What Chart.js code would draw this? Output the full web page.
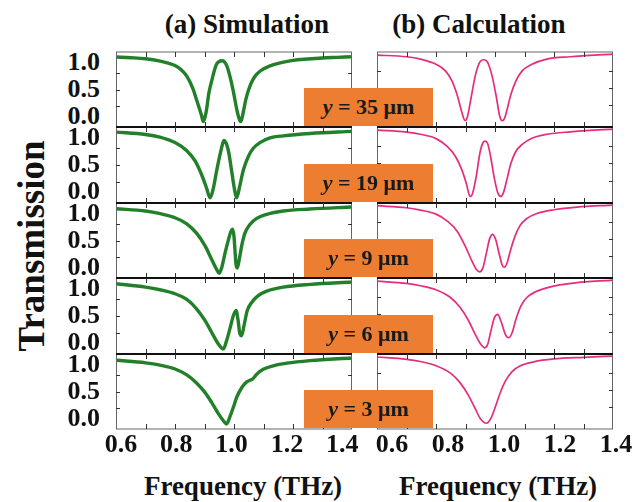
<!DOCTYPE html>
<html lang="en">
<head>
<meta charset="UTF-8">
<title>Transmission: simulation vs calculation</title>
<script src="https://cdn.jsdelivr.net/npm/chart.js"></script>
<style>
  body { margin: 0; background: #fff; }
  #fig {
    position: relative; width: 644px; height: 502px; overflow: hidden;
    font-family: "Liberation Serif", "Times New Roman", serif; font-weight: bold; color: #111;
  }
  #fig canvas { position: absolute; }
  .txt { position: absolute; transform: translate(-50%, -50%); line-height: 1; white-space: nowrap; }
  .title { font-size: 27px; }
  .xtitle { font-size: 27px; }
  .ytitle { font-size: 37px; transform: translate(-50%, -50%) rotate(-90deg); }
  .xtick { font-size: 26px; }
  .ytick { font-size: 26px; transform: translate(-100%, -50%); }
  .tag {
    position: absolute; width: 129px; height: 38px; background: #ed7d31; z-index: 5;
    display: flex; align-items: center; justify-content: center;
    font-size: 22px; color: #1a1a1a;
  }
</style>
</head>
<body>
<div id="fig">
  <div class="txt title" style="left:247px; top:24px;">(a) Simulation</div>
  <div class="txt title" style="left:479px; top:24px;">(b) Calculation</div>
  <div class="txt ytitle" style="left:31px; top:246px;">Transmission</div>
  <div class="txt xtitle" style="left:243px; top:486px;">Frequency (THz)</div>
  <div class="txt xtitle" style="left:498px; top:486px;">Frequency (THz)</div>
</div>

<script>
  // distance y of each row (µm), top to bottom
  const rows = ['35', '19', '9', '6', '3'];
  const xTickLabels = ['0.6', '0.8', '1.0', '1.2', '1.4'];
  const yTickLabels = ['1.0', '0.5', '0.0'];
  const xTickMarks = [0.7, 0.8, 0.9, 1.0, 1.1, 1.2, 1.3];
  const yTickMarks = [0.25, 0.5, 0.75];

  // (a) simulation, frequency (THz) / transmission
  const sim35F = [0.60,0.65,0.70,0.75,0.78,0.80,0.82,0.84,0.86,0.875,0.89,0.896,0.905,0.915,0.925,0.94,0.96,0.975,0.99,1.00,1.01,1.023,1.03,1.04,1.055,1.07,1.09,1.12,1.16,1.20,1.25,1.30,1.35,1.40];
  const sim35T = [0.985,0.975,0.96,0.925,0.89,0.86,0.80,0.70,0.52,0.32,0.11,0.02,0.15,0.45,0.64,0.87,0.93,0.86,0.63,0.42,0.19,0.02,0.13,0.35,0.56,0.69,0.78,0.85,0.90,0.935,0.955,0.97,0.98,0.99];
  const sim19F = [0.60,0.70,0.749,0.80,0.84,0.868,0.89,0.907,0.919,0.93,0.941,0.953,0.967,0.981,0.992,1.001,1.009,1.02,1.032,1.049,1.066,1.088,1.122,1.167,1.258,1.40];
  const sim19T = [0.985,0.95,0.91,0.83,0.71,0.56,0.36,0.16,0.015,0.16,0.41,0.66,0.86,0.71,0.41,0.16,0.015,0.20,0.43,0.63,0.75,0.83,0.90,0.93,0.965,0.995];
  const sim9F = [0.60,0.70,0.75,0.80,0.84,0.873,0.902,0.924,0.941,0.950,0.958,0.970,0.981,0.990,0.995,1.000,1.003,1.007,1.011,1.018,1.026,1.037,1.054,1.077,1.111,1.167,1.258,1.40];
  const sim9T = [0.975,0.94,0.90,0.84,0.75,0.61,0.42,0.22,0.07,0.01,0.09,0.32,0.51,0.64,0.67,0.56,0.37,0.14,0.09,0.22,0.42,0.61,0.74,0.83,0.89,0.94,0.97,1.0];
  const sim6F = [0.60,0.70,0.749,0.80,0.84,0.873,0.902,0.924,0.947,0.964,0.975,0.986,0.998,1.007,1.014,1.020,1.026,1.034,1.045,1.060,1.082,1.111,1.167,1.258,1.40];
  const sim6T = [0.975,0.926,0.887,0.828,0.744,0.606,0.433,0.261,0.089,0.015,0.138,0.31,0.507,0.581,0.433,0.236,0.21,0.36,0.58,0.70,0.80,0.867,0.926,0.966,1.0];
  const sim3F = [0.60,0.70,0.749,0.80,0.84,0.873,0.902,0.924,0.947,0.964,0.975,0.986,0.998,1.009,1.026,1.043,1.054,1.063,1.077,1.099,1.133,1.179,1.258,1.40];
  const sim3T = [0.966,0.928,0.894,0.836,0.749,0.628,0.483,0.338,0.169,0.063,0.015,0.121,0.266,0.411,0.556,0.643,0.667,0.686,0.758,0.831,0.884,0.923,0.961,1.0];

  // (b) calculation
  const calc35F = [0.60,0.70,0.747,0.80,0.832,0.854,0.871,0.885,0.894,0.899,0.907,0.919,0.933,0.948,0.962,0.975,0.990,1.005,1.016,1.024,1.032,1.041,1.054,1.071,1.092,1.125,1.176,1.255,1.40];
  const calc35T = [0.985,0.96,0.926,0.85,0.752,0.604,0.406,0.183,0.05,0.02,0.084,0.356,0.678,0.876,0.916,0.876,0.678,0.356,0.084,0.02,0.05,0.183,0.406,0.604,0.752,0.85,0.926,0.96,1.0];
  const calc19F = [0.60,0.70,0.747,0.80,0.837,0.866,0.888,0.903,0.913,0.918,0.925,0.937,0.950,0.959,0.967,0.975,0.984,0.998,1.009,1.020,1.029,1.041,1.054,1.071,1.092,1.125,1.176,1.255,1.40];
  const calc19T = [0.985,0.955,0.925,0.861,0.751,0.602,0.403,0.204,0.04,0.02,0.08,0.328,0.677,0.801,0.826,0.791,0.627,0.279,0.08,0.02,0.08,0.279,0.502,0.677,0.776,0.866,0.925,0.96,1.0];
  const calc9F = [0.60,0.70,0.747,0.80,0.837,0.871,0.899,0.922,0.937,0.948,0.959,0.971,0.982,0.992,1.002,1.016,1.025,1.032,1.041,1.052,1.066,1.084,1.108,1.142,1.199,1.278,1.40];
  const calc9T = [0.99,0.96,0.926,0.866,0.767,0.619,0.396,0.173,0.05,0.015,0.074,0.297,0.505,0.569,0.495,0.248,0.109,0.084,0.149,0.322,0.52,0.693,0.802,0.876,0.931,0.97,1.0];
  const calc6F = [0.60,0.70,0.747,0.80,0.849,0.882,0.911,0.933,0.950,0.965,0.975,0.986,0.998,1.009,1.020,1.035,1.046,1.058,1.071,1.088,1.108,1.137,1.188,1.267,1.40];
  const calc6T = [0.985,0.951,0.917,0.859,0.746,0.60,0.405,0.21,0.078,0.015,0.063,0.259,0.454,0.502,0.405,0.21,0.161,0.234,0.429,0.624,0.746,0.829,0.902,0.956,1.0];
  const calc3F = [0.60,0.70,0.747,0.80,0.849,0.882,0.911,0.933,0.950,0.971,0.986,1.001,1.018,1.035,1.058,1.086,1.131,1.199,1.301,1.40];
  const calc3T = [0.986,0.952,0.919,0.857,0.748,0.605,0.414,0.224,0.081,0.01,0.081,0.248,0.462,0.629,0.771,0.857,0.914,0.957,0.981,1.0];

  const simSeries = [[sim35F, sim35T], [sim19F, sim19T], [sim9F, sim9T], [sim6F, sim6T], [sim3F, sim3T]];
  const calcSeries = [[calc35F, calc35T], [calc19F, calc19T], [calc9F, calc9T], [calc6F, calc6T], [calc3F, calc3T]];

  // layout
  const fig = document.getElementById('fig');
  const PANEL_TOP = 52, PANEL_H = 75.4, PAD = 6, PLOT_W = 236;
  const colLeft = [116, 377];
  const colYRange = [[-0.06, 1.06], [-0.075, 1.03]];

  const toPoints = (f, t) => f.map((v, i) => ({ x: v, y: t[i] }));
  const rowTop = r => Math.round(PANEL_TOP + r * PANEL_H);

  // box, inward ticks, thick separators between rows
  const framePlugin = {
    id: 'frame',
    afterDatasetsDraw(chart, args, opts) {
      const { ctx, chartArea: a, scales: { x, y } } = chart;
      ctx.save();
      ctx.lineWidth = 1;
      ctx.strokeStyle = '#666';
      ctx.beginPath();
      ctx.moveTo(a.left + 0.5, a.top); ctx.lineTo(a.left + 0.5, a.bottom);
      ctx.moveTo(a.right - 0.5, a.top); ctx.lineTo(a.right - 0.5, a.bottom);
      ctx.stroke();

      const edge = (yy, inner) => {
        ctx.lineWidth = inner ? 2 : 1;
        ctx.strokeStyle = inner ? '#111' : '#666';
        ctx.beginPath(); ctx.moveTo(a.left, yy); ctx.lineTo(a.right, yy); ctx.stroke();
      };
      edge(a.top, opts.row > 0);
      edge(a.bottom, opts.row < rows.length - 1);

      ctx.lineWidth = 1;
      ctx.strokeStyle = '#333';
      ctx.beginPath();
      xTickMarks.forEach(v => {
        const px = Math.round(x.getPixelForValue(v)) + 0.5;
        ctx.moveTo(px, a.top); ctx.lineTo(px, a.top + 5);
        ctx.moveTo(px, a.bottom); ctx.lineTo(px, a.bottom - 5);
      });
      yTickMarks.forEach(v => {
        const py = Math.round(y.getPixelForValue(v)) + 0.5;
        ctx.moveTo(a.left, py); ctx.lineTo(a.left + 4, py);
        ctx.moveTo(a.right, py); ctx.lineTo(a.right - 4, py);
      });
      ctx.stroke();
      ctx.restore();
    }
  };

  function makePanel(col, row, datasets) {
    const top = rowTop(row);
    const h = rowTop(row + 1) - top;
    const cv = document.createElement('canvas');
    cv.width = PLOT_W + 2 * PAD;
    cv.height = h + 2 * PAD;
    cv.style.left = (colLeft[col] - PAD) + 'px';
    cv.style.top = (top - PAD) + 'px';
    cv.style.width = cv.width + 'px';
    cv.style.height = cv.height + 'px';
    fig.appendChild(cv);

    new Chart(cv, {
      type: 'line',
      data: { datasets },
      options: {
        responsive: false,
        animation: false,
        events: [],
        layout: { padding: PAD },
        elements: { point: { radius: 0 } },
        plugins: { legend: { display: false }, tooltip: { enabled: false }, frame: { row } },
        scales: {
          x: { type: 'linear', min: 0.6, max: 1.4, display: false },
          y: { min: colYRange[col][0], max: colYRange[col][1], display: false }
        }
      },
      plugins: [framePlugin]
    });
  }

  rows.forEach((yv, r) => {
    const sim = toPoints(simSeries[r][0], simSeries[r][1]);
    makePanel(0, r, [
      { data: sim, borderColor: '#23802a', borderWidth: 3.4, cubicInterpolationMode: 'monotone' },
      { data: sim, borderColor: '#62bd66', borderWidth: 1.1, cubicInterpolationMode: 'monotone' }
    ]);
    const calc = toPoints(calcSeries[r][0], calcSeries[r][1]);
    makePanel(1, r, [
      { data: calc, borderColor: '#e52d7e', borderWidth: 1.7, cubicInterpolationMode: 'monotone' }
    ]);

    // y tick labels (left column only)
    const top = rowTop(r);
    [10, 37, 64].forEach((off, i) => {
      const d = document.createElement('div');
      d.className = 'txt ytick';
      d.style.left = '100px';
      d.style.top = (top + off) + 'px';
      d.textContent = yTickLabels[i];
      fig.appendChild(d);
    });

    // orange tag
    const tag = document.createElement('div');
    tag.className = 'tag';
    tag.style.left = '304px';
    tag.style.top = (rowTop(r + 1) - 39) + 'px';
    tag.innerHTML = '<i>y</i>&nbsp;=&nbsp;' + yv + ' μm';
    fig.appendChild(tag);
  });

  // x tick labels under both columns
  xTickLabels.forEach((t, i) => {
    [121 + i * 55.3, 392 + i * 56].forEach(cx => {
      const d = document.createElement('div');
      d.className = 'txt xtick';
      d.style.left = cx + 'px';
      d.style.top = '444px';
      d.textContent = t;
      fig.appendChild(d);
    });
  });
</script>
</body>
</html>
